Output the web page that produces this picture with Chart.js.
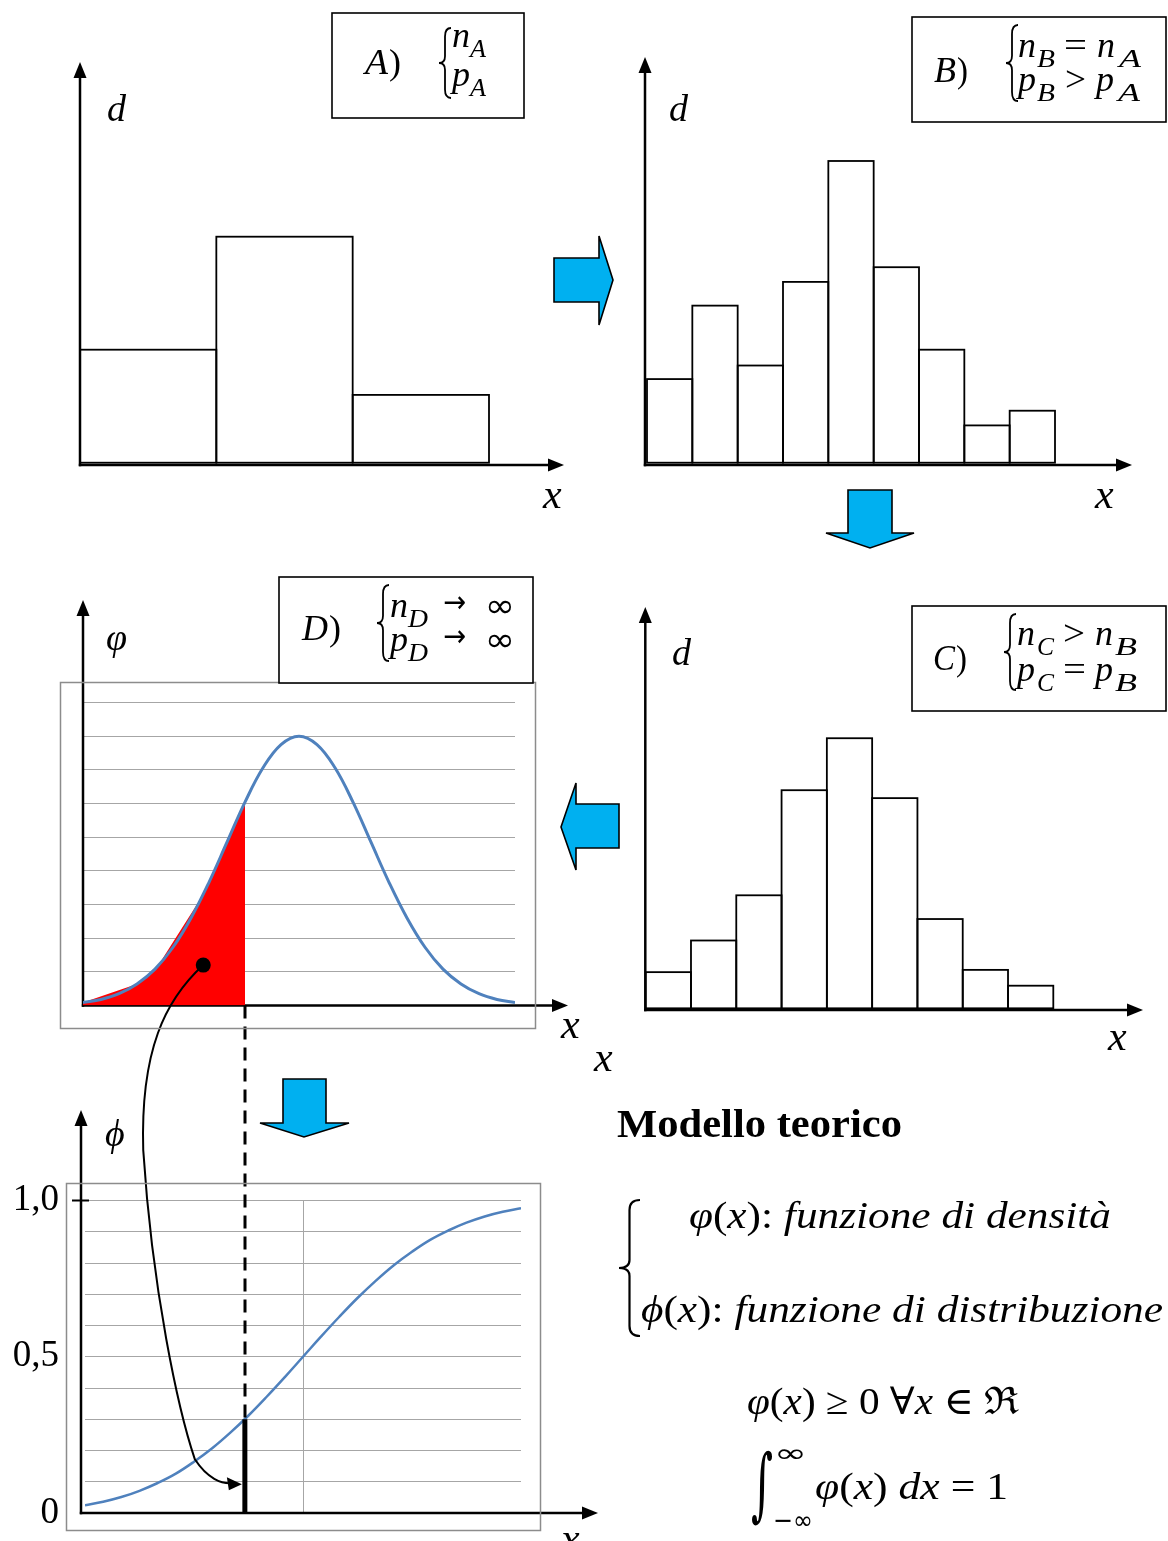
<!DOCTYPE html>
<html><head><meta charset="utf-8">
<script src="https://cdn.jsdelivr.net/npm/chart.js@4.4.1/dist/chart.umd.min.js"></script>
<style>
html,body{margin:0;padding:0;background:#fff;}
#stage{position:relative;width:1168px;height:1541px;overflow:hidden;background:#fff;}
#stage canvas,#stage svg{position:absolute;left:0;top:0;}
</style></head><body>
<div id="stage">
<canvas id="cA" width="1168" height="1541"></canvas>
<canvas id="cB" width="1168" height="1541"></canvas>
<canvas id="cC" width="1168" height="1541"></canvas>
<canvas id="cD" width="1168" height="1541"></canvas>
<canvas id="cP" width="1168" height="1541"></canvas>
<svg id="ov" width="1168" height="1541" xmlns="http://www.w3.org/2000/svg"></svg>
</div>
<script>
// ---------------- data ----------------
const classesA = ['a1','a2','a3'];
const histA = [10, 20, 6];
const classesB = ['b1','b2','b3','b4','b5','b6','b7','b8','b9'];
const histB = [7.4, 13.9, 8.6, 16.0, 26.7, 17.3, 10.0, 3.3, 4.6];
const classesC = ['c1','c2','c3','c4','c5','c6','c7','c8','c9'];
const histC = [3.2, 6.0, 10.0, 19.3, 23.9, 18.6, 7.9, 3.4, 2.0];
const xGrid = [-3,-2.75,-2.5,-2.25,-2,-1.75,-1.5,-1.25,-1,-0.75,-0.5,-0.25,0,0.25,0.5,0.75,1,1.25,1.5,1.75,2,2.25,2.5,2.75,3];
const densityVals = [0.09,0.18,0.35,0.64,1.08,1.73,2.6,3.66,4.85,6.04,7.06,7.75,8.0,7.75,7.06,6.04,4.85,3.66,2.6,1.73,1.08,0.64,0.35,0.18,0.09];
const cdfVals = [0.025,0.036,0.051,0.071,0.096,0.126,0.164,0.207,0.257,0.312,0.372,0.435,0.5,0.565,0.628,0.688,0.743,0.793,0.836,0.874,0.904,0.929,0.949,0.964,0.975];
const shadedX = [-3,-2.25,-1.96,-1.33,-1.0,-0.75];
const shadedY = [0.09,0.64,1.17,3.3,4.85,6.04];
const markerPoint = {x:-1.33, y:1.2};
const cutD = -0.75;
const cutPhi = -0.8;
const cutPhiValue = 0.30;
const arrowTargetValue = 0.095;
const phiTickValues = [0, 0.5, 1.0];
const phiTickLabels = ['0', '0,5', '1,0'];

const W = 1168, H = 1541;

// ---------------- plugins ----------------
const barOutline = {
  id:'barOutline',
  afterDatasetsDraw(chart, args, o){
    if(!o || !o.width) return;
    const ctx = chart.ctx; ctx.save();
    ctx.strokeStyle = '#000'; ctx.lineWidth = o.width;
    chart.getDatasetMeta(0).data.forEach(b => {
      const p = b.getProps(['x','y','base','width'], true);
      ctx.strokeRect(p.x - p.width/2, p.y, p.width, p.base - p.y);
    });
    ctx.restore();
  }
};
function drawAxes(chart, o){
  const ctx = chart.ctx, ca = chart.chartArea;
  const ox = ca.left + (o.dx || 0);
  const oy = chart.scales.y.getPixelForValue(0) + (o.dy || 0);
  ctx.save();
  ctx.strokeStyle = '#000'; ctx.fillStyle = '#000'; ctx.lineWidth = 2.5;
  ctx.beginPath(); ctx.moveTo(ox, oy + 1.2); ctx.lineTo(ox, o.yTip + 12); ctx.stroke();
  ctx.beginPath(); ctx.moveTo(ox - 1.2, oy); ctx.lineTo(o.xTip - 12, oy); ctx.stroke();
  ctx.beginPath(); ctx.moveTo(ox, o.yTip); ctx.lineTo(ox - 6.5, o.yTip + 16); ctx.lineTo(ox + 6.5, o.yTip + 16); ctx.closePath(); ctx.fill();
  ctx.beginPath(); ctx.moveTo(o.xTip, oy); ctx.lineTo(o.xTip - 16, oy - 6.5); ctx.lineTo(o.xTip - 16, oy + 6.5); ctx.closePath(); ctx.fill();
  if (o.tickAt !== undefined) {
    const ty = chart.scales.y.getPixelForValue(o.tickAt);
    ctx.lineWidth = 2; ctx.beginPath(); ctx.moveTo(ox - 9, ty); ctx.lineTo(ox + 8, ty); ctx.stroke();
  }
  ctx.restore();
}
const axisArrows = {
  id:'axisArrows',
  beforeDatasetsDraw(chart, args, o){ if(o && o.yTip && o.under) drawAxes(chart, o); },
  afterDatasetsDraw(chart, args, o){ if(o && o.yTip && !o.under) drawAxes(chart, o); }
};
Chart.register(barOutline, axisArrows);

const baseOpts = {responsive:false, animation:false, events:[], maintainAspectRatio:false};

function histChart(id, labels, values, area, yMax, axes){
  return new Chart(document.getElementById(id), {
    type:'bar',
    data:{labels, datasets:[{data:values, backgroundColor:'#fff', borderWidth:0, categoryPercentage:1, barPercentage:1}]},
    options:Object.assign({}, baseOpts, {
      layout:{padding:{left:area.l, right:W - area.r, top:area.t, bottom:H - area.b}},
      scales:{x:{display:false}, y:{display:false, min:0, max:yMax}},
      plugins:{legend:{display:false}, tooltip:{enabled:false}, barOutline:{width:1.8}, axisArrows:axes}
    })
  });
}

const chartA = histChart('cA', classesA, histA, {l:80, r:489, t:236.7, b:462.7}, 20, {dx:0, dy:2.3, yTip:62, xTip:564});
const chartB = histChart('cB', classesB, histB, {l:647, r:1055, t:123.7, b:462.7}, 30, {dx:-2, dy:2.3, yTip:57, xTip:1132});
const chartC = histChart('cC', classesC, histC, {l:645.7, r:1053.3, t:669.3, b:1008.3}, 30, {dx:-0.4, dy:1.7, yTip:607, xTip:1143});

const chartD = new Chart(document.getElementById('cD'), {
  type:'scatter',
  data:{datasets:[
    {data:[markerPoint], pointRadius:7.5, pointBackgroundColor:'#000', pointBorderWidth:0, showLine:false},
    {data:xGrid.map((x,i)=>({x, y:densityVals[i]})), showLine:true, borderColor:'#4f81bd', borderWidth:3, pointRadius:0, tension:0.4, fill:false},
    {data:shadedX.map((x,i)=>({x, y:shadedY[i]})), showLine:true, borderWidth:0, borderColor:'rgba(0,0,0,0)', backgroundColor:'#ff0000', pointRadius:0, fill:'origin', tension:0}
  ]},
  options:Object.assign({}, baseOpts, {
    layout:{padding:{left:83, right:W - 515, top:702.5, bottom:H - 1005.5}},
    scales:{
      x:{type:'linear', min:-3, max:3, display:false},
      y:{min:0, max:9, ticks:{display:false, stepSize:1}, grid:{color:'#a6a6a6', drawTicks:false, lineWidth:1}, border:{display:false},
         afterFit(s){ s.width = 0; s.paddingTop = 0; s.paddingBottom = 0; }}
    },
    plugins:{legend:{display:false}, tooltip:{enabled:false}, axisArrows:{dx:0, dy:0, yTip:600, xTip:568, under:true}}
  })
});

const connector = {
  id:'connector',
  afterDraw(chart, args, o){
    if(!o || !o.enabled) return;
    const ctx = chart.ctx;
    const xs = chartD.scales.x, ys = chartD.scales.y, px = chart.scales.x, py = chart.scales.y;
    const x = xs.getPixelForValue(cutD);
    const y0 = ys.getPixelForValue(0);
    const y1 = py.getPixelForValue(cutPhiValue);
    ctx.save();
    ctx.strokeStyle = '#000'; ctx.fillStyle = '#000';
    ctx.lineWidth = 3; ctx.setLineDash([13, 8]);
    ctx.beginPath(); ctx.moveTo(x, y0); ctx.lineTo(x, y1); ctx.stroke();
    ctx.setLineDash([]);
    const sx = xs.getPixelForValue(markerPoint.x), sy = ys.getPixelForValue(markerPoint.y);
    const ex = px.getPixelForValue(cutPhi) - 3, ey = py.getPixelForValue(arrowTargetValue);
    ctx.lineWidth = 2;
    ctx.beginPath();
    ctx.moveTo(sx, sy);
    ctx.bezierCurveTo(sx - 38, sy + 35, sx - 63, sy + 85, sx - 60, sy + 185);
    ctx.bezierCurveTo(sx - 51, sy + 325, sx - 25, sy + 445, ex - 47, ey - 24);
    ctx.bezierCurveTo(ex - 34, ey - 4, ex - 20, ey, ex - 12, ey);
    ctx.stroke();
    ctx.beginPath(); ctx.moveTo(ex, ey + 1); ctx.lineTo(ex - 15, ey - 6); ctx.lineTo(ex - 13, ey + 7); ctx.closePath(); ctx.fill();
    ctx.restore();
  }
};

const chartP = new Chart(document.getElementById('cP'), {
  type:'scatter',
  data:{datasets:[
    {data:[{x:cutPhi, y:0}, {x:cutPhi, y:cutPhiValue}], showLine:true, borderColor:'#000', borderWidth:5, pointRadius:0},
    {data:xGrid.map((x,i)=>({x, y:cdfVals[i]})), showLine:true, borderColor:'#4f81bd', borderWidth:2.5, pointRadius:0, tension:0.4}
  ]},
  options:Object.assign({}, baseOpts, {
    layout:{padding:{left:0, right:W - 521, top:1200.5, bottom:H - 1513}},
    scales:{
      x:{type:'linear', min:-3, max:3, ticks:{display:false}, grid:{color:'#a6a6a6', drawTicks:false}, border:{display:false},
         afterBuildTicks(s){ s.ticks = [{value:0}]; }, afterFit(s){ s.height = 0; s.paddingLeft = 0; s.paddingRight = 0; }},
      y:{min:0, max:1, border:{display:false}, grid:{color:'#a6a6a6', drawTicks:false},
         ticks:{stepSize:0.1, autoSkip:false, padding:26, color:'#000', font:{family:'Liberation Serif', size:37},
                callback:(v)=>{ const k = phiTickValues.findIndex(t => Math.abs(t - v) < 1e-6); return k >= 0 ? phiTickLabels[k] : ''; }},
         afterFit(s){ s.width = 85; s.paddingTop = 0; s.paddingBottom = 0; }}
    },
    plugins:{legend:{display:false}, tooltip:{enabled:false}, axisArrows:{dx:-4, dy:0, yTip:1110, xTip:598, tickAt:1.0}, connector:{enabled:true}}
  }),
  plugins:[connector]
});

// ---------------- overlay: boxes, labels, arrows ----------------
const MF = 'Liberation Serif, DejaVu Serif, serif';
const SY = 'DejaVu Sans, sans-serif';
function t(x, y, str, opt){
  const o = Object.assign({size:36, italic:true, len:null, weight:'normal', family:MF}, opt || {});
  return `<text x="${x}" y="${y}" font-family="${o.family}" font-size="${o.size}" font-style="${o.italic?'italic':'normal'}" font-weight="${o.weight}"${o.len?` textLength="${o.len}" lengthAdjust="spacingAndGlyphs"`:''}>${str}</text>`;
}
function brace(x0, x1, y0, y1, sw){
  const xs = x0 + (x1 - x0) * 0.5, ym = (y0 + y1) / 2, h = y1 - y0;
  const r = Math.min(h * 0.12, 10);
  return `<path d="M${x1},${y0} Q${xs},${y0} ${xs},${y0 + r} L${xs},${ym - r * 0.8} Q${xs},${ym} ${x0},${ym} Q${xs},${ym} ${xs},${ym + r * 0.8} L${xs},${y1 - r} Q${xs},${y1} ${x1},${y1}" fill="none" stroke="#000" stroke-width="${sw || 1.8}"/>`;
}
function box(x, y, w, h){ return `<rect x="${x}" y="${y}" width="${w}" height="${h}" fill="#fff" stroke="#000" stroke-width="1.6"/>`; }
function blue(pts){ return `<polygon points="${pts}" fill="#00b0f0" stroke="#000" stroke-width="1.6" stroke-linejoin="miter"/>`; }

let s = '';
// grey chart frames
s += `<rect x="60.5" y="682.5" width="475" height="346" fill="none" stroke="#8c8c8c" stroke-width="1.5"/>`;
s += `<rect x="66.5" y="1183.5" width="474" height="347" fill="none" stroke="#8c8c8c" stroke-width="1.5"/>`;

// Box A
s += box(332, 13, 192, 105);
s += t(365, 74, 'A', {size:36, len:23}) + t(389, 74, ')', {size:36, italic:false, len:12});
s += brace(439, 451, 28, 98);
s += t(452, 47, 'n', {len:18}) + t(470, 57, 'A', {size:26, len:16});
s += t(452, 86, 'p', {len:18}) + t(470, 96, 'A', {size:26, len:16});

// Box B
s += box(912, 17, 254, 105);
s += t(934, 82, 'B', {size:36, len:22}) + t(957, 82, ')', {size:36, italic:false, len:11});
s += brace(1006, 1018, 25, 101);
s += t(1018, 57, 'n', {len:18}) + t(1037, 67, 'B', {size:26, len:18});
s += t(1064, 57, '=', {italic:false, len:23});
s += t(1097, 57, 'n', {len:18}) + t(1119, 67, 'A', {size:26, len:22});
s += t(1018, 91, 'p', {len:18}) + t(1037, 101, 'B', {size:26, len:18});
s += t(1065, 91, '&gt;', {italic:false, len:21});
s += t(1096, 91, 'p', {len:18}) + t(1118, 101, 'A', {size:26, len:22});

// Box D
s += box(279, 577, 254, 106);
s += t(302, 640, 'D', {size:36, len:26}) + t(329, 640, ')', {size:36, italic:false, len:12});
s += brace(377, 389, 585, 661);
s += t(390, 617, 'n', {len:18}) + t(408, 627, 'D', {size:26, len:20});
s += t(443, 612, '→', {italic:false, family:SY, size:30, len:23});
s += t(485, 617, '∞', {italic:false, family:SY, size:34, len:30});
s += t(390, 651, 'p', {len:18}) + t(408, 661, 'D', {size:26, len:20});
s += t(443, 646, '→', {italic:false, family:SY, size:30, len:23});
s += t(485, 651, '∞', {italic:false, family:SY, size:34, len:30});

// Box C
s += box(912, 606, 254, 105);
s += t(933, 670, 'C', {size:36, len:22}) + t(956, 670, ')', {size:36, italic:false, len:11});
s += brace(1004, 1016, 614, 690);
s += t(1017, 645, 'n', {len:18}) + t(1037, 655, 'C', {size:26, len:17});
s += t(1063, 645, '&gt;', {italic:false, len:22});
s += t(1095, 645, 'n', {len:18}) + t(1115, 655, 'B', {size:26, len:22});
s += t(1017, 681, 'p', {len:18}) + t(1037, 691, 'C', {size:26, len:17});
s += t(1063, 681, '=', {italic:false, len:23});
s += t(1095, 681, 'p', {len:18}) + t(1115, 691, 'B', {size:26, len:22});

// axis labels
s += t(107, 121, 'd', {size:38});
s += t(543, 508, 'x', {size:42});
s += t(669, 121, 'd', {size:38});
s += t(1095, 508, 'x', {size:42});
s += t(672, 665, 'd', {size:38});
s += t(1108, 1050, 'x', {size:42});
s += t(106, 650, 'φ', {size:38});
s += t(561, 1038, 'x', {size:42});
s += t(594, 1071, 'x', {size:42});
s += t(105, 1146, 'ϕ', {size:38});
s += t(561, 1552, 'x', {size:42});

// blue arrows
s += blue('554,258 599,258 599,236 613,280 599,325 599,302 554,302');
s += blue('848,490 892,490 892,533 914,533 870,548 826,533 848,533');
s += blue('619,804 576,804 576,783 561,827 576,870 576,848 619,848');
s += blue('283,1079 326,1079 326,1123 349,1123 304,1137 260,1123 283,1123');

// Modello teorico
s += t(617, 1137, 'Modello teorico', {size:40, italic:false, weight:'bold', len:285});
s += brace(619, 640, 1200, 1336, 2.2);
s += `<text x="689" y="1228" font-family="${MF}" font-size="38" textLength="422" lengthAdjust="spacingAndGlyphs"><tspan font-style="italic">φ</tspan>(<tspan font-style="italic">x</tspan>): <tspan font-style="italic">funzione di densità</tspan></text>`;
s += `<text x="641" y="1322" font-family="${MF}" font-size="38" textLength="522" lengthAdjust="spacingAndGlyphs"><tspan font-style="italic">ϕ</tspan>(<tspan font-style="italic">x</tspan>): <tspan font-style="italic">funzione di distribuzione</tspan></text>`;
s += `<text x="747" y="1414" font-family="${MF}" font-size="38" textLength="272" lengthAdjust="spacingAndGlyphs"><tspan font-style="italic">φ</tspan>(<tspan font-style="italic">x</tspan>) ≥ 0 ∀<tspan font-style="italic">x</tspan> ∈ ℜ</text>`;
s += `<text x="751" y="1511" font-family="DejaVu Serif, serif" font-size="80" textLength="22" lengthAdjust="spacingAndGlyphs">∫</text>`;
s += t(774, 1462, '∞', {size:26, italic:false, family:SY, len:33});
s += t(773, 1529, '−∞', {size:26, italic:false, family:SY, len:40});
s += `<text x="815" y="1499" font-family="${MF}" font-size="38" textLength="193" lengthAdjust="spacingAndGlyphs"><tspan font-style="italic">φ</tspan>(<tspan font-style="italic">x</tspan>) <tspan font-style="italic">dx</tspan> = 1</text>`;

document.getElementById('ov').innerHTML = s;
</script>
</body></html>
